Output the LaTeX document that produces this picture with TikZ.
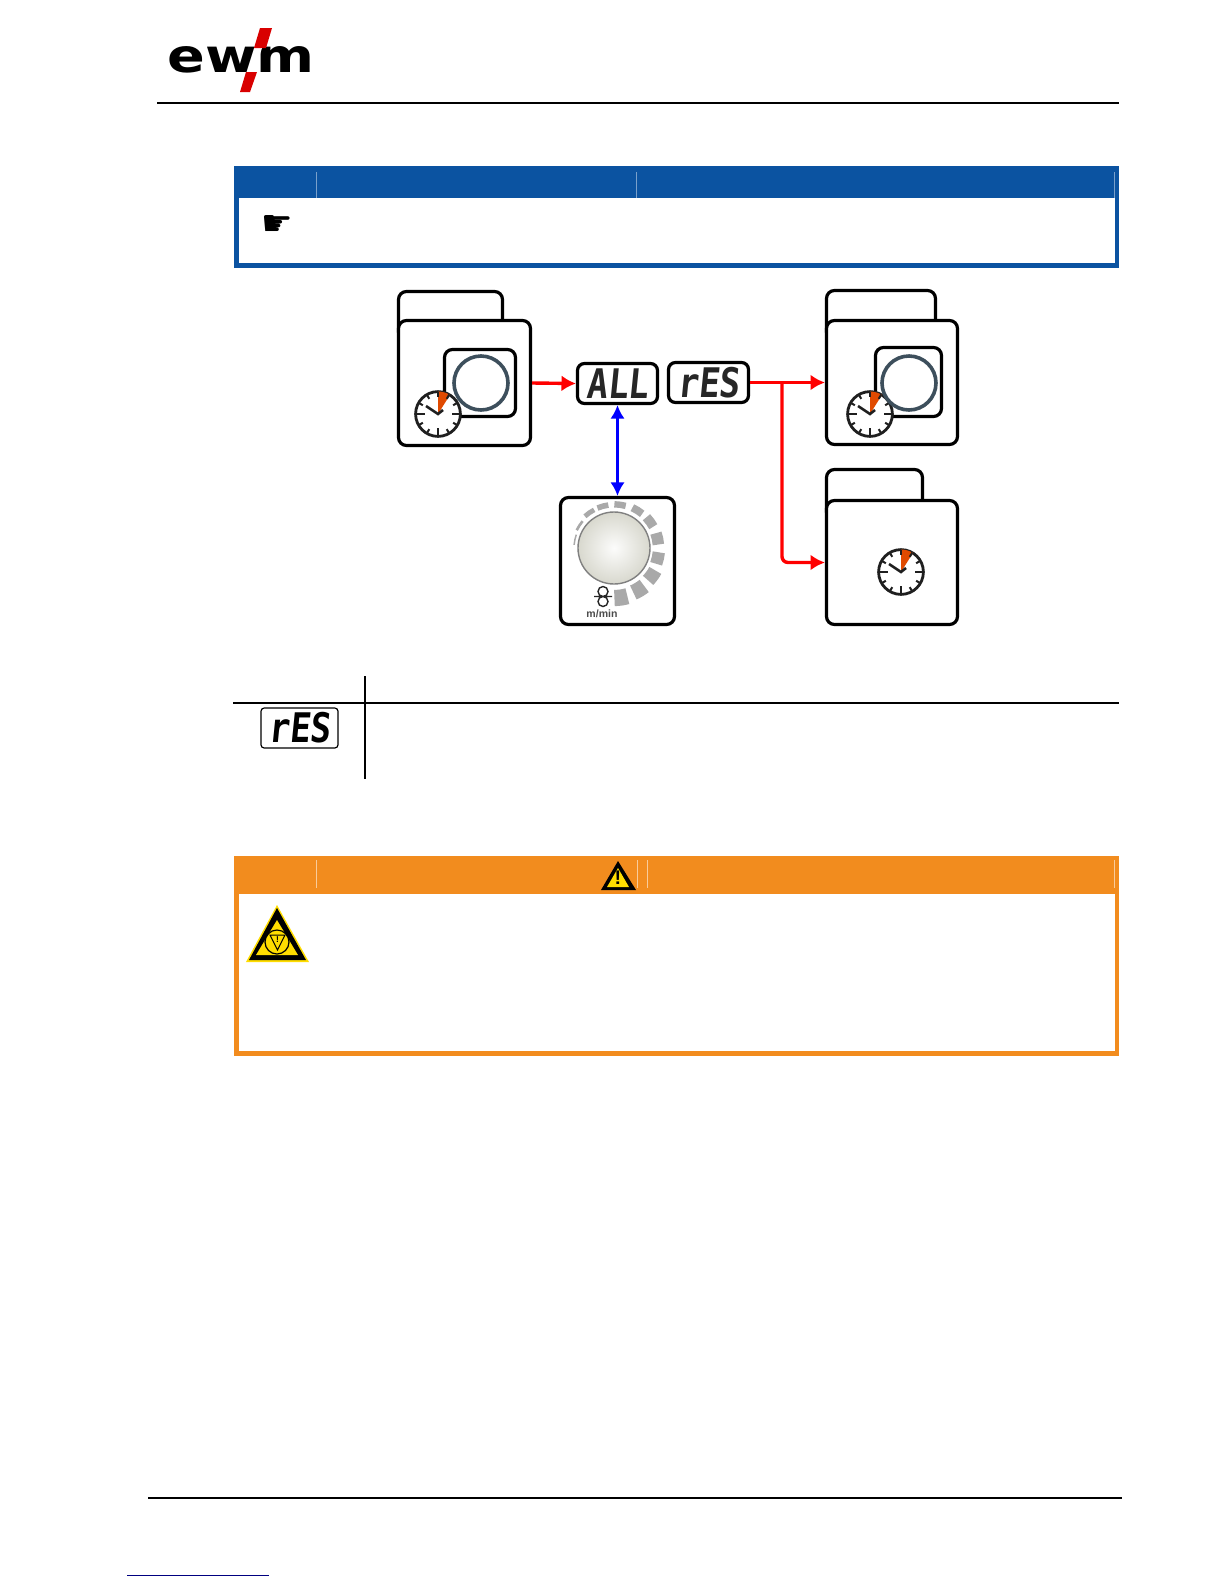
\documentclass[tikz,border=0pt]{standalone}
\usepackage{fontspec}
\usetikzlibrary{arrows.meta}
\setmainfont{Liberation Sans}
\newfontfamily\lcdfont{DejaVu Sans Mono}[FakeStretch=0.85,FakeSlant=0.1]
\newfontfamily\logofont{DejaVu Sans}[FakeStretch=1.2]
\newfontfamily\handfont{DejaVu Sans}
\definecolor{noteblue}{HTML}{0B53A1}
\definecolor{warnorange}{HTML}{F28C1E}
\definecolor{warnyellow}{HTML}{FFDD00}
\definecolor{wedgeorange}{HTML}{E04A00}
\definecolor{ringgrey}{HTML}{3D4F5C}
\definecolor{scalegrey}{HTML}{A9A9A9}
\definecolor{knobbeige}{HTML}{D8D8CE}
\tikzset{
  panel/.style={draw=black,fill=white,line width=.8mm,rounded corners=2mm,inner sep=0},
  lcd/.style={panel,rounded corners=1.75mm,minimum width=20mm,minimum height=10mm,
    text=black!85,font=\lcdfont\bfseries\fontsize{29}{29}\selectfont},
  redline/.style={draw=red,line width=.85mm,-{Latex[length=3.6mm,width=4mm]}},
  sepline/.style={line width=.2mm}
}
\newcommand{\clockdial}[3]{
  \node[circle,draw=black!88,fill=white,line width=.7mm,minimum size=11.2mm,inner sep=0] (#3) at (#1,#2) {};
  \fill[wedgeorange] (#1,#2) -- ++(-90:22.5) arc (-90:-58:22.5) -- cycle;
  \foreach \ang in {0,30,...,330}
    \draw[black!88,line width=.5mm] (#1,#2) ++(\ang:22.5) -- ++(\ang:-5);
  \foreach \ang in {0,90,180}
    \draw[black!88,line width=.55mm] (#1,#2) ++(\ang:22.5) -- ++(\ang:-9);
  \draw[black!88,line width=.65mm] (#1,#2) ++(-12,-8) -- (#1,#2) -- ++(5,-4);
}

\begin{document}
\begin{tikzpicture}[x=.25mm,y=-.25mm]
  \useasboundingbox (0,0) rectangle (1224,1584);
  \fill[white] (0,0) rectangle (1224,1584);

  \node[font=\logofont\bfseries\fontsize{33}{33}\selectfont,inner sep=0] (logotext) at (241,60) {ewm};
  \fill[white] (256,48) -- (262,48) -- (254,72) -- (248,72) -- cycle;
  \fill[red!85!black] (260,28) -- (272,28) -- (266,48) -- (254,48) -- cycle;
  \fill[red!85!black] (246,72) -- (257,72) -- (250,92) -- (240,92) -- cycle;
  \draw[line width=.4mm] (157,103) -- (1119,103);

  \fill[noteblue] (234,166) rectangle (1119,268);
  \fill[white] (239,198) rectangle (1115,263);
  \foreach \sepx in {316,636,1114}
    \draw[noteblue!55!white,sepline] (\sepx,172) -- (\sepx,198);
  \node[font=\handfont\fontsize{25}{25}\selectfont,inner sep=0] (hand) at (277,225) {☛};

  \node[panel,minimum width=26mm,minimum height=12.125mm] (taba) at (450.5,315.75) {};
  \node[panel,minimum width=33mm,minimum height=31.25mm] (boxa) at (464.5,383) {};
  \node[panel,minimum width=17.75mm,minimum height=16.75mm] (inna) at (480,383) {};
  \node[circle,draw=ringgrey,line width=.9mm,minimum size=13.5mm,inner sep=0] (ringa) at (481,383) {};
  \clockdial{438}{414}{clocka}

  \node[panel,minimum width=27.25mm,minimum height=12.375mm] (tabb) at (881,315.25) {};
  \node[panel,minimum width=32.75mm,minimum height=31mm] (boxb) at (892,382.5) {};
  \node[panel,minimum width=16.5mm,minimum height=17.25mm] (innb) at (908.5,382) {};
  \clockdial{870}{414}{clockb}
  \node[circle,draw=ringgrey,line width=.9mm,minimum size=13.5mm,inner sep=0] (ringb) at (909,383) {};

  \node[panel,minimum width=24mm,minimum height=12.625mm] (tabc) at (874.5,494.75) {};
  \node[panel,minimum width=32.75mm,minimum height=31mm] (boxc) at (892,562.5) {};
  \clockdial{901}{572}{clockc}

  \node[lcd] (all) at (617.5,383.5) {ALL};
  \node[lcd] (res) at (708.5,382.5) {rES};
  \node[panel,minimum width=28.5mm,minimum height=31.75mm] (knobbox) at (617.5,561) {};

  \foreach \ang/\rad/\wid in {-168/40/1.5,-147/41.3/2.6,-125/43/4.8,-105/43.3/5.6,-82/43.7/6.4,-58/44.3/7.6,
      -36/44.7/9.5,-12/44.5/11.5,13/45/12.3,36/47/13.8,59/48.5/15.3,82/50/16.2}
    \draw[scalegrey,line width=\wid*.25mm] (614,548) ++(\ang-7.5:\rad) arc (\ang-7.5:\ang+7.5:\rad);
  \node[circle,draw=black!50,line width=.35mm,minimum size=18mm,inner sep=0,
    inner color=white!92!knobbeige,outer color=knobbeige] (knob) at (614,548) {};
  \draw[black!85,line width=.35mm] (603,591.5) circle (5) (603,601.5) circle (5) (594,596.5) -- (612,596.5);
  \node[font=\bfseries\fontsize{7.5}{8}\selectfont,text=black!70,inner sep=0] (unit) at (602,614) {m/min};

  \coordinate (branch) at (782,382.5);
  \draw[redline] (boxa.east) -- (all.west);
  \draw[redline] (res.east) -- (boxb.west);
  \draw[redline,rounded corners=1.5mm] (branch) |- (boxc.west);
  \draw[blue,line width=.6mm,{Latex[length=3.4mm,width=3.6mm]}-{Latex[length=3.4mm,width=3.6mm]}] (all.south) -- (knobbox.north);

  \draw[line width=.3mm] (365,676) -- (365,779);
  \draw[line width=.5mm] (233,703) -- (1119,703);
  \node[lcd,line width=.3mm,rounded corners=.8mm,minimum width=19.25mm,text=black] (ressmall) at (299.5,728) {rES};

  \fill[warnorange] (234,856) rectangle (1119,1056);
  \fill[white] (239,894) rectangle (1115,1051);
  \foreach \sepx in {316,637,647,1114}
    \draw[warnorange!45!white,sepline] (\sepx,860) -- (\sepx,888);
  \fill[black] (618,861) -- (636,890) -- (601,890) -- cycle;
  \fill[warnyellow] (618,868) -- (629,887) -- (607,887) -- cycle;
  \node[font=\bfseries\fontsize{14}{14}\selectfont,inner sep=0] (warnmark) at (618,878) {!};

  \fill[warnyellow] (277,905) -- (309,962) -- (246,962) -- cycle;
  \fill[black] (277,908) -- (306,960) -- (249,960) -- cycle;
  \fill[warnyellow] (277,920) -- (298,955) -- (256,955) -- cycle;
  \draw[line width=.3mm] (277,942) circle (12);
  \draw[line width=.25mm] (270,935) -- (285,935) -- (277.5,950) -- cycle;
  \node[font=\bfseries\fontsize{6}{6}\selectfont,inner sep=0] (stopmark) at (277.5,940) {!};

  \draw[line width=.55mm] (148,1498) -- (1122,1498);
  \draw[blue!50!black,line width=.25mm] (127,1575) -- (269,1575);
\end{tikzpicture}
\end{document}
